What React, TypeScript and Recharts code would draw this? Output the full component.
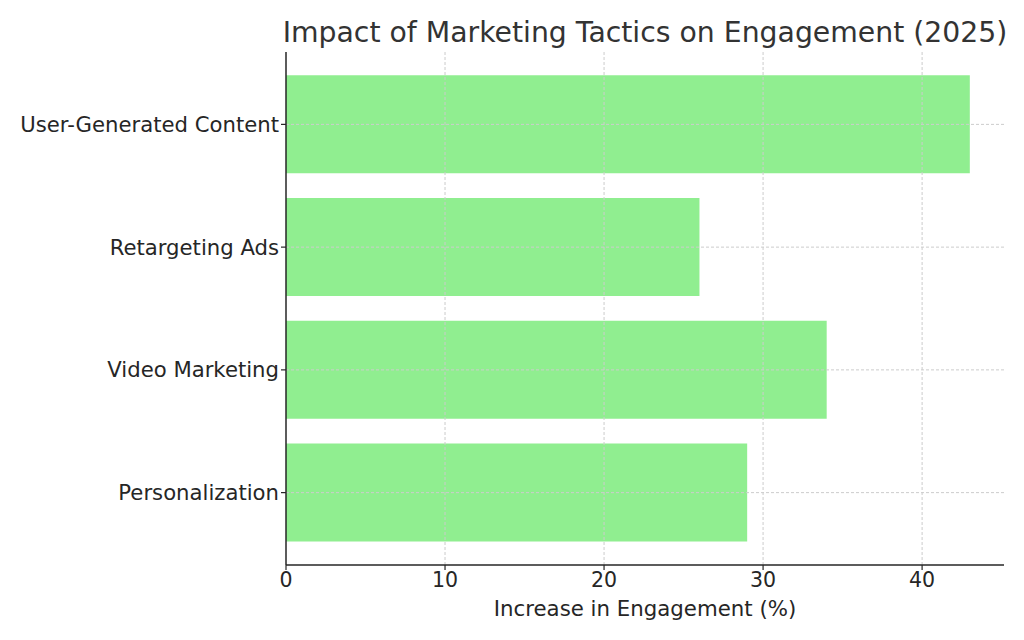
import React from 'react';
import { BarChart, Bar, XAxis, YAxis, ReferenceLine } from 'recharts';

const categories = ['User-Generated Content', 'Retargeting Ads', 'Video Marketing', 'Personalization'];
const values = [43, 26, 34, 29];
const xTicks = [0, 10, 20, 30, 40];

const data = categories.map((c, i) => ({ name: c, value: values[i] }));

const FONT = '"DejaVu Sans", sans-serif';
const GRID = '#cccccc';

export default function App() {
  return (
    <div style={{ position: 'absolute', left: 0, top: 0, width: 1024, height: 640, background: '#fff', fontFamily: FONT }}>
      <BarChart
        width={1024}
        height={640}
        data={data}
        layout="vertical"
        margin={{ top: 52, right: 20, bottom: 0, left: 0 }}
        barCategoryGap="10%"
        style={{ position: 'absolute', left: 0, top: 0 }}
      >
        <Bar dataKey="value" fill="#90EE90" isAnimationActive={false} />
        {xTicks.slice(1).map((t) => (
          <ReferenceLine key={'x' + t} x={t} stroke={GRID} strokeDasharray="3 2" strokeWidth={1} />
        ))}
        {categories.map((c) => (
          <ReferenceLine key={'y' + c} y={c} stroke={GRID} strokeDasharray="3 2" strokeWidth={1} />
        ))}
        <XAxis
          type="number"
          domain={[0, 45.15]}
          ticks={xTicks}
          height={75}
          allowDataOverflow
          tick={{ fontSize: 20.5, fill: '#262626', fontFamily: FONT }}
          tickSize={5}
          tickMargin={2}
          axisLine={{ stroke: '#262626', strokeWidth: 1.5 }}
          tickLine={{ stroke: '#262626', strokeWidth: 1.2 }}
          label={{ value: 'Increase in Engagement (%)', position: 'insideBottom', offset: 24, fontSize: 21.3, fill: '#262626', fontFamily: FONT }}
        />
        <YAxis
          type="category"
          dataKey="name"
          width={286}
          padding={{ top: 11, bottom: 11 }}
          tick={{ fontSize: 21.2, fill: '#262626', fontFamily: FONT }}
          tickSize={5}
          tickMargin={2}
          axisLine={{ stroke: '#262626', strokeWidth: 1.5 }}
          tickLine={{ stroke: '#262626', strokeWidth: 1.2 }}
        />
      </BarChart>
      <div style={{ position: 'absolute', left: 145, width: 1000, top: 14, textAlign: 'center', fontSize: 28.3, color: '#333', lineHeight: '38px', whiteSpace: 'nowrap' }}>
        Impact of Marketing Tactics on Engagement (2025)
      </div>
    </div>
  );
}
